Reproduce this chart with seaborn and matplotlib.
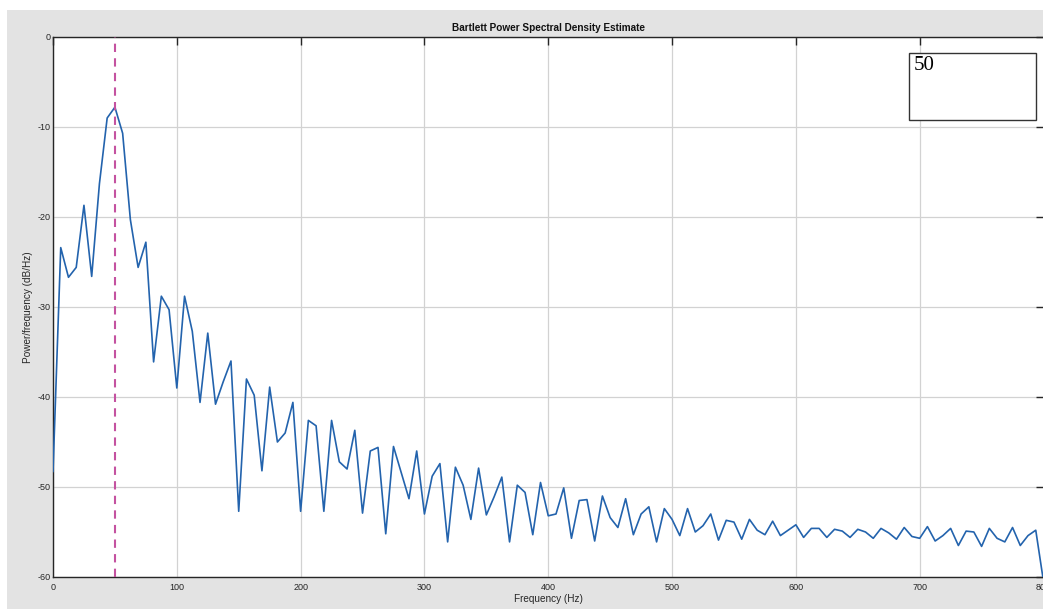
import numpy as np
import pandas as pd
import matplotlib
matplotlib.use("Agg")
import matplotlib.pyplot as plt
from matplotlib.patches import Rectangle
import seaborn as sns

# ---- data ----
fs = 1600
nfft = 256
freqs = np.arange(nfft // 2 + 1) * fs / nfft  # 0 .. 800 Hz, 6.25 Hz bins
psd_db = [
    -48.3, -23.4, -26.7, -25.6, -18.7, -26.6, -16.3, -9.0, -7.8, -10.7,
    -20.3, -25.6, -22.8, -36.1, -28.8, -30.3, -39.0, -28.8, -32.7, -40.6,
    -32.9, -40.8, -38.3, -36.0, -52.7, -38.0, -39.8, -48.2, -38.9, -45.0,
    -44.0, -40.6, -52.7, -42.6, -43.2, -52.7, -42.6, -47.2, -48.0, -43.7,
    -52.9, -46.0, -45.6, -55.2, -45.5, -48.4, -51.3, -46.0, -53.0, -48.8,
    -47.4, -56.1, -47.8, -49.8, -53.6, -47.9, -53.1, -51.1, -48.9, -56.1,
    -49.8, -50.6, -55.3, -49.5, -53.2, -53.0, -50.1, -55.7, -51.5, -51.4,
    -56.0, -51.0, -53.4, -54.5, -51.3, -55.3, -53.0, -52.2, -56.1, -52.4,
    -53.6, -55.4, -52.4, -55.0, -54.3, -53.0, -55.9, -53.7, -53.9, -55.8,
    -53.6, -54.8, -55.3, -53.8, -55.4, -54.8, -54.2, -55.6, -54.6, -54.6,
    -55.6, -54.7, -54.9, -55.6, -54.7, -55.0, -55.7, -54.6, -55.1, -55.8,
    -54.5, -55.5, -55.7, -54.4, -56.0, -55.4, -54.6, -56.5, -54.9, -55.0,
    -56.6, -54.6, -55.7, -56.1, -54.5, -56.5, -55.4, -54.8, -60.5,
]
marker_freq = 50
annotation_text = "50"
x_ticks = [0, 100, 200, 300, 400, 500, 600, 700, 800]
y_ticks = [0, -10, -20, -30, -40, -50, -60]
title = "Bartlett Power Spectral Density Estimate"
xlabel = "Frequency (Hz)"
ylabel = "Power/frequency (dB/Hz)"

df = pd.DataFrame({"freq": freqs, "psd": psd_db})

# ---- style ----
sns.set_style("white")
plt.rcParams["font.family"] = ["Liberation Sans", "DejaVu Sans"]
plt.rcParams["axes.unicode_minus"] = False

W, H = 1043, 609
fig = plt.figure(figsize=(W / 100, H / 100), dpi=100)
fig.patch.set_facecolor("white")
# gray MATLAB-like figure background
fig.patches.append(Rectangle((7 / W, 0), 1 - 7 / W, 1 - 10 / H,
                             transform=fig.transFigure, facecolor="#e3e3e3",
                             edgecolor="none", zorder=-10))

ax = fig.add_axes([53 / W, 32 / H, 990.5 / W, 540 / H])
ax.set_facecolor("white")

sns.lineplot(data=df, x="freq", y="psd", ax=ax, color="#2363ad",
             linewidth=1.2, zorder=3)
ax.axvline(marker_freq, color="#c452a0", linestyle=(0, (4, 3)),
           linewidth=1.5, zorder=4)

ax.set_xlim(0, 800)
ax.set_ylim(-60, 0)
ax.set_xticks(x_ticks)
ax.set_yticks(y_ticks)
ax.set_xticklabels([str(t) for t in x_ticks])
ax.set_yticklabels([str(t) for t in y_ticks])
ax.grid(True, color="#d2d2d2", linewidth=0.9)
ax.set_axisbelow(True)
ax.tick_params(direction="in", length=6, width=1.0, colors="#262626",
               labelsize=6.5, top=True, right=True, pad=2)
ax.tick_params(axis="x", pad=4)
for s in ax.spines.values():
    s.set_color("#262626")
    s.set_linewidth(1.0)
    s.set_visible(True)

ax.set_title(title, fontsize=7.2, fontweight="bold", color="#111111", pad=4)
ax.set_xlabel(xlabel, fontsize=7.2, color="#262626", labelpad=2)
ax.set_ylabel(ylabel, fontsize=7.2, color="#262626", labelpad=3)

# annotation box
box_x0 = (909 - 53) / 990
box_x1 = (1036 - 53) / 990
box_y0 = (577 - 120) / 540
box_y1 = (577 - 53) / 540
ax.add_patch(Rectangle((box_x0, box_y0), box_x1 - box_x0, box_y1 - box_y0,
                       transform=ax.transAxes, facecolor="white",
                       edgecolor="#333333", linewidth=1.0, zorder=6))
ax.text(box_x0 + 0.004, box_y1 - 0.006, annotation_text, transform=ax.transAxes,
        ha="left", va="top", fontsize=15, family=["Liberation Serif", "DejaVu Serif"],
        color="black", zorder=7)

fig.savefig("out.png", dpi=100)
